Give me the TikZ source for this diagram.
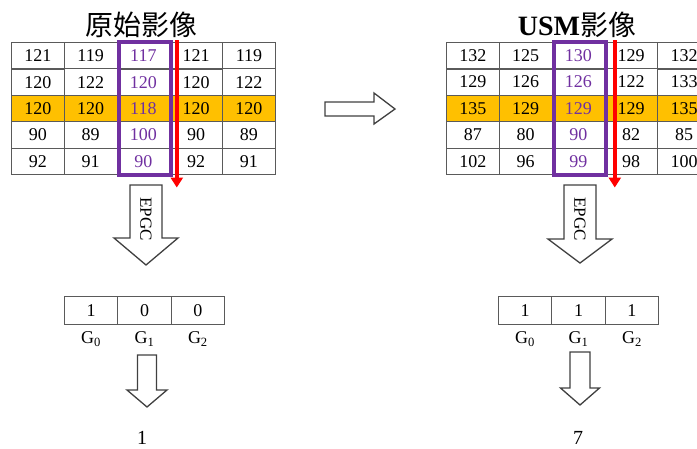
\documentclass[tikz,border=0pt]{standalone}
\usepackage{fontspec}
\setmainfont{Liberation Serif}
\newfontfamily\cjk{Noto Sans CJK TC}
\usetikzlibrary{matrix,arrows.meta}
\definecolor{epurple}{HTML}{7030A0}
\definecolor{eorange}{HTML}{FFC000}
\definecolor{ered}{HTML}{FF0000}
\definecolor{egrid}{HTML}{5A5A5A}
\tikzset{
  pixcell/.style={draw=egrid, line width=0.8pt, minimum width=52.8pt,
    minimum height=26.4pt, inner sep=0pt, font=\fontsize{18}{20}\selectfont},
  bitcell/.style={pixcell, minimum width=53.4pt, minimum height=27.8pt},
  imgmatrix/.style={matrix of nodes, nodes={pixcell}, anchor=north west,
    inner sep=0pt, outer sep=0pt, column sep=-0.8pt, row sep=-0.8pt,
    row 3/.style={nodes={fill=eorange}},
    column 3/.style={nodes={text=epurple}}},
  bitmatrix/.style={matrix of nodes, nodes={bitcell}, anchor=north west,
    inner sep=0pt, outer sep=0pt, column sep=-0.8pt},
  hollow/.style={draw=black!75, line width=1.3pt, fill=white, line join=miter},
  colbox/.style={draw=epurple, line width=4pt},
  scanarrow/.style={ered, line width=4pt, -{Triangle[width=12pt,length=10pt]}},
  glabel/.style={font=\fontsize{18}{20}\selectfont},
}
\begin{document}
\begin{tikzpicture}[x=1pt, y=-1pt]
  \useasboundingbox (0,0) rectangle (697,448);
  \clip (0,0) rectangle (697,448);

  % titles
  \node (ltitle) at (141,25) {\cjk\fontsize{28}{30}\selectfont 原始影像};
  \node (rtitle) at (577,25) {\fontsize{28}{30}\selectfont\textbf{USM}\cjk 影像};

  % image blocks
  \matrix (lgrid) [imgmatrix] at (11,42) {
    121 & 119 & 117 & 121 & 119 \\
    120 & 122 & 120 & 120 & 122 \\
    120 & 120 & 118 & 120 & 120 \\
    90  & 89  & 100 & 90  & 89  \\
    92  & 91  & 90  & 92  & 91  \\
  };
  \matrix (rgrid) [imgmatrix] at (446,42) {
    132 & 125 & 130 & 129 & 132 \\
    129 & 126 & 126 & 122 & 133 \\
    135 & 129 & 129 & 129 & 135 \\
    87  & 80  & 90  & 82  & 85  \\
    102 & 96  & 99  & 98  & 100 \\
  };

  % selected column and scan direction
  \draw [colbox] ([xshift=1.5pt]lgrid-1-3.north west) rectangle ([xshift=1.5pt]lgrid-5-3.south east);
  \draw [colbox] ([xshift=1.5pt]rgrid-1-3.north west) rectangle ([xshift=1.5pt]rgrid-5-3.south east);
  \draw [scanarrow] ([shift={(7,-2)}]lgrid-1-3.north east) to ([shift={(7,13)}]lgrid-5-3.south east);
  \draw [scanarrow] ([shift={(10,-2)}]rgrid-1-3.north east) to ([shift={(10,13)}]rgrid-5-3.south east);

  % middle arrow
  \draw [hollow] (325,102) -- (374,102) -- (374,93) -- (395,109)
    -- (374,124) -- (374,116) -- (325,116) -- cycle;

  % EPGC arrows
  \coordinate (lepgc) at (146,185);
  \coordinate (repgc) at (580,185);
  \draw [hollow] (lepgc) ++(-16,0) -- ++(32,0) -- ++(0,53) -- ++(16,0)
    -- ++(-32,27) -- ++(-32,-27) -- ++(16,0) -- cycle;
  \draw [hollow] (repgc) ++(-16,0) -- ++(32,0) -- ++(0,54) -- ++(16,0)
    -- ++(-32,24) -- ++(-32,-24) -- ++(16,0) -- cycle;
  \node (ltxt) at ([shift={(0,34)}] lepgc) [rotate=-90, font=\fontsize{17}{17}\selectfont] {EPGC};
  \node (rtxt) at ([shift={(0,34)}] repgc) [rotate=-90, font=\fontsize{17}{17}\selectfont] {EPGC};

  % bit codes
  \matrix (lbits) [bitmatrix] at (64,296) { 1 & 0 & 0 \\ };
  \matrix (rbits) [bitmatrix] at (498,296) { 1 & 1 & 1 \\ };
  \node [glabel] (lg0) at ([shift={(0,15)}] lbits-1-1.south) {G\textsubscript{0}};
  \node [glabel] (lg1) at ([shift={(0,15)}] lbits-1-2.south) {G\textsubscript{1}};
  \node [glabel] (lg2) at ([shift={(0,15)}] lbits-1-3.south) {G\textsubscript{2}};
  \node [glabel] (rg0) at ([shift={(0,15)}] rbits-1-1.south) {G\textsubscript{0}};
  \node [glabel] (rg1) at ([shift={(0,15)}] rbits-1-2.south) {G\textsubscript{1}};
  \node [glabel] (rg2) at ([shift={(0,15)}] rbits-1-3.south) {G\textsubscript{2}};

  % small arrows and results
  \coordinate (lsmall) at (147,355);
  \coordinate (rsmall) at (580,352);
  \draw [hollow] (lsmall) ++(-9.5,0) -- ++(19,0) -- ++(0,35) -- ++(10.5,0)
    -- ++(-20,17) -- ++(-20,-17) -- ++(10.5,0) -- cycle;
  \draw [hollow] (rsmall) ++(-10,0) -- ++(20,0) -- ++(0,36) -- ++(9.5,0)
    -- ++(-19.5,17) -- ++(-19.5,-17) -- ++(9.5,0) -- cycle;
  \node [font=\fontsize{20}{22}\selectfont, inner sep=1pt] (lres) at (142,438) {1};
  \node [font=\fontsize{20}{22}\selectfont, inner sep=1pt] (rres) at (578,438) {7};
\end{tikzpicture}
\end{document}
